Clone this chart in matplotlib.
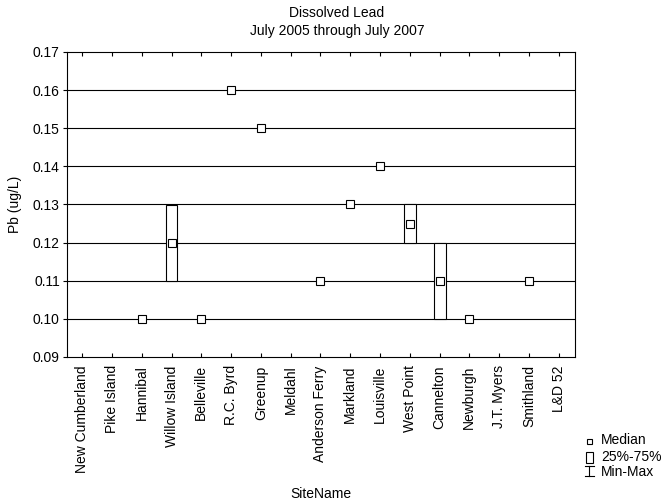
import matplotlib
matplotlib.use("Agg")
import matplotlib.pyplot as plt
from matplotlib.patches import Rectangle
from matplotlib.lines import Line2D
import numpy as np

plt.rcParams['font.family'] = ['Liberation Sans', 'DejaVu Sans']

sites = ["New Cumberland", "Pike Island", "Hannibal", "Willow Island", "Belleville",
         "R.C. Byrd", "Greenup", "Meldahl", "Anderson Ferry", "Markland", "Louisville",
         "West Point", "Cannelton", "Newburgh", "J.T. Myers", "Smithland", "L&D 52"]
median = [None, None, 0.10, 0.12, 0.10, 0.16, 0.15, None, 0.11, 0.13, 0.14,
          0.125, 0.11, 0.10, None, 0.11, None]
q25 = [None, None, 0.10, 0.11, 0.10, 0.16, 0.15, None, 0.11, 0.13, 0.14,
       0.12, 0.10, 0.10, None, 0.11, None]
q75 = [None, None, 0.10, 0.13, 0.10, 0.16, 0.15, None, 0.11, 0.13, 0.14,
       0.13, 0.12, 0.10, None, 0.11, None]
vmin = q25
vmax = q75
yticks = [0.09, 0.10, 0.11, 0.12, 0.13, 0.14, 0.15, 0.16, 0.17]

W, H = 663, 501
fig = plt.figure(figsize=(W / 100, H / 100), dpi=100)
L, R, T, B = 66.7, 574.5, 52, 357
ax = fig.add_axes([L / W, 1 - B / H, (R - L) / W, (B - T) / H])

x = np.arange(len(sites))
ax.set_xlim(-0.52, len(sites) - 0.47)
ax.set_ylim(0.09, 0.17)
ax.set_yticks(yticks)
ax.set_yticklabels([f"{v:.2f}" for v in yticks])
for v in yticks[1:-1]:
    ax.axhline(v, color='black', lw=0.8, zorder=1)

bw = 0.40
for i in x:
    if median[i] is None:
        continue
    if q75[i] - q25[i] > 1e-9:
        ax.add_patch(Rectangle((i - bw / 2, q25[i]), bw, q75[i] - q25[i],
                               facecolor='white', edgecolor='black', lw=0.8, zorder=3))
    if vmax[i] - vmin[i] > 1e-9:
        ax.plot([i, i], [vmin[i], q25[i]], color='black', lw=0.8, zorder=2)
        ax.plot([i, i], [q75[i], vmax[i]], color='black', lw=0.8, zorder=2)
    ax.plot(i, median[i], marker='s', ms=5.3, mfc='white', mec='black', mew=0.8, zorder=4)

ax.set_xticks(x)
ax.set_xticklabels(sites, rotation=90, fontsize=10)
ax.tick_params(axis='x', direction='in', length=3, width=0.8, top=True, labeltop=False, pad=6)
ax.tick_params(axis='y', direction='out', length=3, width=0.8, labelsize=10, pad=2)
for s in ax.spines.values():
    s.set_linewidth(0.8)

ax.set_ylabel("Pb (ug/L)", fontsize=10, labelpad=8)
ax.set_xlabel("SiteName", fontsize=10, labelpad=10)
fig.text(337 / W, 1 - 13 / H, "Dissolved Lead", ha='center', va='center', fontsize=10)
fig.text(337 / W, 1 - 31 / H, "July 2005 through July 2007", ha='center', va='center', fontsize=10)

# legend drawn in figure coordinates
def fx(px):
    return px / W

def fy(py):
    return 1 - py / H

sx = 589
fig.add_artist(Line2D([fx(sx)], [fy(440.5)], marker='s', ms=3.6, mfc='white', mec='black',
                      mew=0.8, ls='none'))
fig.add_artist(Rectangle((fx(sx - 3.5), fy(462.5)), 7 / W, 11 / H, facecolor='white',
                         edgecolor='black', lw=0.8, transform=fig.transFigure))
fig.add_artist(Line2D([fx(sx), fx(sx)], [fy(466), fy(476)], color='black', lw=0.8))
fig.add_artist(Line2D([fx(sx - 4.5), fx(sx + 4.5)], [fy(466), fy(466)], color='black', lw=0.8))
fig.add_artist(Line2D([fx(sx - 4.5), fx(sx + 4.5)], [fy(476), fy(476)], color='black', lw=0.8))
for label, py in [("Median", 440.5), ("25%-75%", 457), ("Min-Max", 472)]:
    fig.text(fx(601), fy(py), label, ha='left', va='center', fontsize=10)

fig.savefig("out.png", dpi=100)
